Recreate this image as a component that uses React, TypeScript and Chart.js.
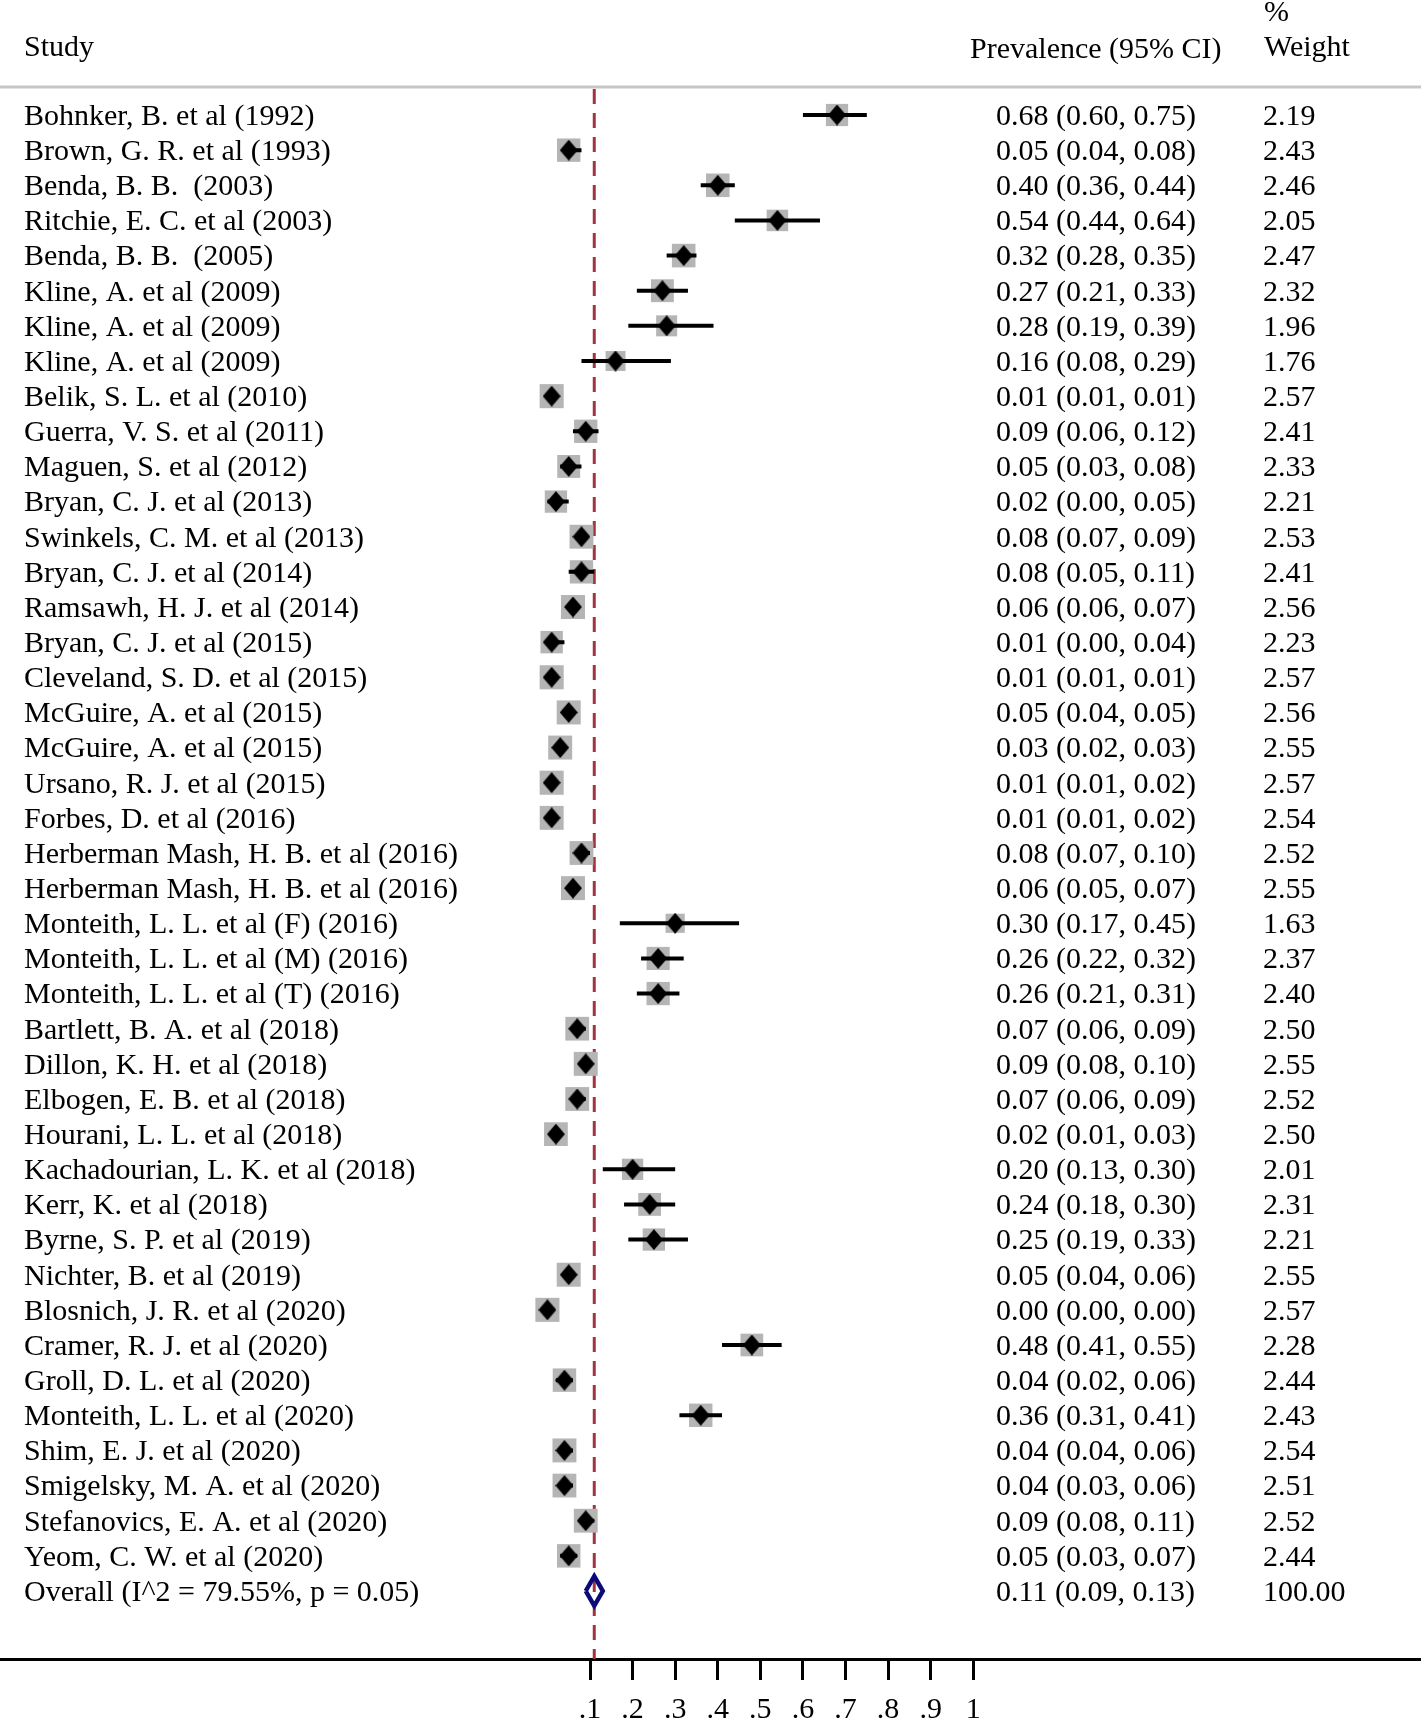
import React, { useEffect, useRef } from 'react';
import { Chart, registerables } from 'chart.js';

Chart.register(...registerables);

const studies = [
  'Bohnker, B. et al (1992)',
  'Brown, G. R. et al (1993)',
  'Benda, B. B.  (2003)',
  'Ritchie, E. C. et al (2003)',
  'Benda, B. B.  (2005)',
  'Kline, A. et al (2009)',
  'Kline, A. et al (2009)',
  'Kline, A. et al (2009)',
  'Belik, S. L. et al (2010)',
  'Guerra, V. S. et al (2011)',
  'Maguen, S. et al (2012)',
  'Bryan, C. J. et al (2013)',
  'Swinkels, C. M. et al (2013)',
  'Bryan, C. J. et al (2014)',
  'Ramsawh, H. J. et al (2014)',
  'Bryan, C. J. et al (2015)',
  'Cleveland, S. D. et al (2015)',
  'McGuire, A. et al (2015)',
  'McGuire, A. et al (2015)',
  'Ursano, R. J. et al (2015)',
  'Forbes, D. et al (2016)',
  'Herberman Mash, H. B. et al (2016)',
  'Herberman Mash, H. B. et al (2016)',
  'Monteith, L. L. et al (F) (2016)',
  'Monteith, L. L. et al (M) (2016)',
  'Monteith, L. L. et al (T) (2016)',
  'Bartlett, B. A. et al (2018)',
  'Dillon, K. H. et al (2018)',
  'Elbogen, E. B. et al (2018)',
  'Hourani, L. L. et al (2018)',
  'Kachadourian, L. K. et al (2018)',
  'Kerr, K. et al (2018)',
  'Byrne, S. P. et al (2019)',
  'Nichter, B. et al (2019)',
  'Blosnich, J. R. et al (2020)',
  'Cramer, R. J. et al (2020)',
  'Groll, D. L. et al (2020)',
  'Monteith, L. L. et al (2020)',
  'Shim, E. J. et al (2020)',
  'Smigelsky, M. A. et al (2020)',
  'Stefanovics, E. A. et al (2020)',
  'Yeom, C. W. et al (2020)',
];

const estimates = [
  0.68, 0.05, 0.40, 0.54, 0.32, 0.27, 0.28, 0.16, 0.01, 0.09,
  0.05, 0.02, 0.08, 0.08, 0.06, 0.01, 0.01, 0.05, 0.03, 0.01,
  0.01, 0.08, 0.06, 0.30, 0.26, 0.26, 0.07, 0.09, 0.07, 0.02,
  0.20, 0.24, 0.25, 0.05, 0.00, 0.48, 0.04, 0.36, 0.04, 0.04,
  0.09, 0.05,
];

const lowerCI = [
  0.60, 0.04, 0.36, 0.44, 0.28, 0.21, 0.19, 0.08, 0.01, 0.06,
  0.03, 0.00, 0.07, 0.05, 0.06, 0.00, 0.01, 0.04, 0.02, 0.01,
  0.01, 0.07, 0.05, 0.17, 0.22, 0.21, 0.06, 0.08, 0.06, 0.01,
  0.13, 0.18, 0.19, 0.04, 0.00, 0.41, 0.02, 0.31, 0.04, 0.03,
  0.08, 0.03,
];

const upperCI = [
  0.75, 0.08, 0.44, 0.64, 0.35, 0.33, 0.39, 0.29, 0.01, 0.12,
  0.08, 0.05, 0.09, 0.11, 0.07, 0.04, 0.01, 0.05, 0.03, 0.02,
  0.02, 0.10, 0.07, 0.45, 0.32, 0.31, 0.09, 0.10, 0.09, 0.03,
  0.30, 0.30, 0.33, 0.06, 0.00, 0.55, 0.06, 0.41, 0.06, 0.06,
  0.11, 0.07,
];

const weights = [
  2.19, 2.43, 2.46, 2.05, 2.47, 2.32, 1.96, 1.76, 2.57, 2.41,
  2.33, 2.21, 2.53, 2.41, 2.56, 2.23, 2.57, 2.56, 2.55, 2.57,
  2.54, 2.52, 2.55, 1.63, 2.37, 2.40, 2.50, 2.55, 2.52, 2.50,
  2.01, 2.31, 2.21, 2.55, 2.57, 2.28, 2.44, 2.43, 2.54, 2.51,
  2.52, 2.44,
];

const overallLabel = 'Overall (I^2 = 79.55%, p = 0.05)';
const overallEst = [0.11];
const overallLower = [0.09];
const overallUpper = [0.13];
const overallWeight = [100.0];

const xTickValues = [0.1, 0.2, 0.3, 0.4, 0.5, 0.6, 0.7, 0.8, 0.9, 1.0];

const headerStudy = 'Study';
const headerPrev = 'Prevalence (95% CI)';
const headerPct = '%';
const headerWeight = 'Weight';

const W = 1421;
const H = 1719;
const FONT = '"Liberation Serif", "Times New Roman", serif';
const FONT_SIZE = 30;
const STRETCH = 1.0;

const nRows = studies.length + 1; // incl. overall
const overallRow = studies.length;

function makeDiamond(): HTMLCanvasElement {
  const c = document.createElement('canvas');
  const w = 18;
  const h = 21;
  c.width = w;
  c.height = h;
  const g = c.getContext('2d')!;
  g.fillStyle = '#000';
  g.beginPath();
  g.moveTo(w / 2, 0);
  g.lineTo(w, h / 2);
  g.lineTo(w / 2, h);
  g.lineTo(0, h / 2);
  g.closePath();
  g.fill();
  return c;
}

const fmt = (v: number) => v.toFixed(2);

const textPlugin = {
  id: 'forestText',
  afterDraw(chart: any) {
    const { ctx } = chart;
    const yScale = chart.scales.y;
    ctx.save();
    // header rule
    ctx.strokeStyle = '#c6c6c6';
    ctx.lineWidth = 3;
    ctx.beginPath();
    ctx.moveTo(0, 87);
    ctx.lineTo(chart.width, 87);
    ctx.stroke();

    ctx.fillStyle = '#000';
    ctx.font = `${FONT_SIZE}px ${FONT}`;
    ctx.textBaseline = 'middle';
    ctx.textAlign = 'left';
    const draw = (t: string, x: number, y: number) => {
      ctx.save();
      ctx.translate(x, y);
      ctx.scale(1, STRETCH);
      ctx.fillText(t, 0, 0);
      ctx.restore();
    };
    draw(headerStudy, 24, 48.5);
    draw(headerPrev, 970, 50.5);
    draw(headerPct, 1264, 13.5);
    draw(headerWeight, 1264, 48.5);

    for (let i = 0; i < studies.length; i++) {
      const y = yScale.getPixelForValue(i) + 2;
      draw(studies[i], 24, y);
      draw(`${fmt(estimates[i])} (${fmt(lowerCI[i])}, ${fmt(upperCI[i])})`, 996, y);
      draw(fmt(weights[i]), 1263, y);
    }
    const yo = yScale.getPixelForValue(overallRow) + 2;
    draw(overallLabel, 24, yo);
    draw(`${fmt(overallEst[0])} (${fmt(overallLower[0])}, ${fmt(overallUpper[0])})`, 996, yo);
    draw(fmt(overallWeight[0]), 1263, yo);
    ctx.restore();
  },
};

export default function App() {
  const ref = useRef<HTMLCanvasElement | null>(null);

  useEffect(() => {
    const canvas = ref.current;
    if (!canvas) return;

    // pixel mapping: .1 at 590px, 1.0 at 973px across full-width chart area
    const pxPerUnit = (973.3 - 590) / 0.9;
    const xMin = 0.1 - 590 / pxPerUnit;
    const xMax = 0.1 + (W - 590) / pxPerUnit;

    // row mapping: row 0 at 115px, last row at 1591px; chart area 89..1659
    const top = 89;
    const bottom = 1659;
    const row0 = 115;
    const rowLast = 1591;
    const rowPx = (rowLast - row0) / (nRows - 1);
    const yMin = -(row0 - top) / rowPx;
    const yMax = (nRows - 1) + (bottom - rowLast) / rowPx;

    const squareData = estimates.map((e, i) => ({ x: e, y: i }));
    const squareRadius = weights.map((w) => (23.5 * Math.sqrt(w / 2.45)) / Math.SQRT2);

    const ciData: any[] = [];
    for (let i = 0; i < studies.length; i++) {
      ciData.push({ x: lowerCI[i], y: i });
      ciData.push({ x: upperCI[i], y: i });
      ciData.push({ x: null, y: null });
    }

    const dh = 0.42;
    const overallDiamond = [
      { x: overallLower[0], y: overallRow },
      { x: overallEst[0], y: overallRow - dh },
      { x: overallUpper[0], y: overallRow },
      { x: overallEst[0], y: overallRow + dh },
      { x: overallLower[0], y: overallRow },
    ];

    const chart = new Chart(canvas, {
      type: 'scatter',
      data: {
        datasets: [
          {
            type: 'line',
            label: 'overall line',
            data: [
              { x: overallEst[0], y: yMin },
              { x: overallEst[0], y: yMax },
            ],
            borderColor: '#a3343f',
            borderWidth: 3,
            borderDash: [15, 9],
            pointRadius: 0,
            fill: false,
            order: 5,
          } as any,
          {
            label: 'weights',
            data: squareData,
            pointStyle: 'rect',
            pointRadius: squareRadius,
            backgroundColor: '#b5b5b5',
            borderWidth: 0,
            borderColor: 'rgba(0,0,0,0)',
            order: 4,
          } as any,
          {
            type: 'line',
            label: 'CI',
            data: ciData,
            borderColor: '#000',
            borderWidth: 4,
            borderCapStyle: 'butt',
            pointRadius: 0,
            spanGaps: false,
            fill: false,
            order: 3,
          } as any,
          {
            label: 'estimates',
            data: estimates.map((e, i) => ({ x: e, y: i })),
            pointStyle: makeDiamond(),
            pointRadius: 10,
            backgroundColor: '#000',
            borderWidth: 0,
            order: 2,
          } as any,
          {
            type: 'line',
            label: 'overall',
            data: overallDiamond,
            borderColor: '#0a0a78',
            borderWidth: 4.5,
            borderJoinStyle: 'miter',
            pointRadius: 0,
            fill: false,
            tension: 0,
            order: 1,
          } as any,
        ],
      },
      options: {
        responsive: false,
        animation: false,
        devicePixelRatio: 1,
        events: [],
        layout: { autoPadding: false, padding: { top, left: 0, right: 0, bottom: 0 } },
        plugins: {
          legend: { display: false },
          tooltip: { enabled: false },
          title: { display: false },
        },
        scales: {
          x: {
            type: 'linear',
            position: 'bottom',
            min: xMin,
            max: xMax,
            afterBuildTicks: (axis: any) => {
              axis.ticks = xTickValues.map((v) => ({ value: v }));
            },
            afterFit: (axis: any) => {
              axis.height = H - bottom;
              axis.paddingLeft = 0;
              axis.paddingRight = 0;
            },
            grid: {
              drawOnChartArea: false,
              drawTicks: true,
              tickLength: 21,
              color: '#000',
              lineWidth: 3,
              tickWidth: 3,
              tickColor: '#000',
            },
            border: { display: true, color: '#000', width: 3 },
            ticks: {
              autoSkip: false,
              maxRotation: 0,
              padding: 12,
              color: '#000',
              font: { family: FONT, size: FONT_SIZE },
              callback: (v: any) => {
                const n = Number(v);
                return n >= 0.999 ? '1' : '.' + Math.round(n * 10);
              },
            },
          },
          y: {
            type: 'linear',
            display: false,
            reverse: true,
            min: yMin,
            max: yMax,
          },
        },
      },
      plugins: [textPlugin],
    });

    return () => chart.destroy();
  }, []);

  return (
    <div style={{ position: 'absolute', left: 0, top: 0, width: W, height: H, background: '#fff' }}>
      <canvas ref={ref} width={W} height={H} style={{ display: 'block', width: W, height: H }} />
    </div>
  );
}
